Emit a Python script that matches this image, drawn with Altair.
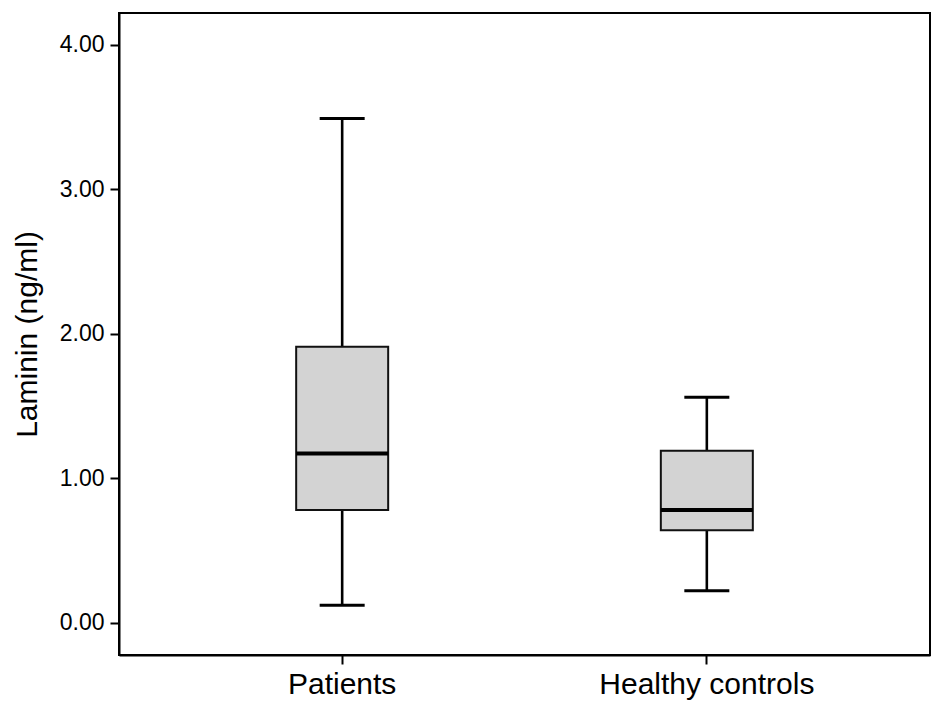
import altair as alt
import pandas as pd

groups = ["Patients", "Healthy controls"]
lower = [0.12, 0.22]
q1 = [0.78, 0.64]
median = [1.17, 0.78]
q3 = [1.91, 1.19]
upper = [3.49, 1.56]

df = pd.DataFrame({"group": groups, "lower": lower, "q1": q1,
                   "median": median, "q3": q3, "upper": upper})

FONT = "Liberation Sans"

x = alt.X("group:N", sort=groups, title=None,
          scale=alt.Scale(paddingInner=0, paddingOuter=0.112),
          axis=alt.Axis(labelAngle=0, labelFontSize=30, labelColor="black",
                        labelFont=FONT, labelPadding=5, labelLimit=0,
                        tickSize=9, tickWidth=2,
                        tickColor="black", domainColor="black", domainWidth=2))

yscale = alt.Scale(domain=[-0.224, 4.22], nice=False, zero=False)
yaxis = alt.Axis(values=[0, 1, 2, 3, 4], format=".2f", labelFontSize=23,
                 labelColor="black", labelFont=FONT, labelPadding=6,
                 tickSize=9, tickWidth=2, tickColor="black", domainColor="black",
                 domainWidth=2, grid=False, title="Laminin (ng/ml)",
                 titleFontSize=30, titleFontWeight="normal", titleFont=FONT,
                 titleColor="black", titlePadding=17)

base = alt.Chart(df)

whisk_lo = base.mark_rule(color="black", strokeWidth=2.6, opacity=1).encode(
    x=x, y=alt.Y("lower:Q", scale=yscale, axis=yaxis), y2="q1:Q")
whisk_hi = base.mark_rule(color="black", strokeWidth=2.6, opacity=1).encode(
    x=x, y=alt.Y("q3:Q", scale=yscale), y2="upper:Q")
cap_lo = base.mark_tick(color="black", size=45, thickness=3, opacity=1).encode(
    x=x, y=alt.Y("lower:Q", scale=yscale))
cap_hi = base.mark_tick(color="black", size=45, thickness=3, opacity=1).encode(
    x=x, y=alt.Y("upper:Q", scale=yscale))
box = base.mark_bar(size=92, fill="#d3d3d3", stroke="#111111",
                    strokeWidth=2, opacity=1).encode(
    x=x, y=alt.Y("q1:Q", scale=yscale), y2="q3:Q")
med = base.mark_tick(color="black", size=92, thickness=4, opacity=1).encode(
    x=x, y=alt.Y("median:Q", scale=yscale))

chart = alt.layer(whisk_lo, whisk_hi, cap_lo, cap_hi, box, med).properties(
    width=811, height=642,
    autosize=alt.AutoSizeParams(type="none"),
    padding={"left": 111, "top": 5, "right": 6, "bottom": 50},
    background="white",
).configure_view(stroke="black", strokeWidth=2)

chart.save("out.html", embed_options={"renderer": "svg", "actions": False})
